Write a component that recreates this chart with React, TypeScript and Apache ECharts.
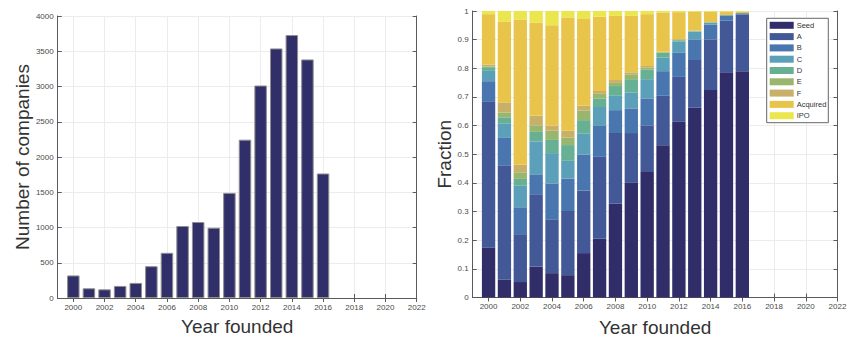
import React, { useEffect, useRef } from "react";
import * as echarts from "echarts";

const years = [2000, 2001, 2002, 2003, 2004, 2005, 2006, 2007, 2008, 2009, 2010, 2011, 2012, 2013, 2014, 2015, 2016];
const axisStartYear = 1999;
const axisEndYear = 2022;

const companies = [320, 138, 123, 171, 214, 451, 641, 1021, 1078, 997, 1491, 2246, 3014, 3540, 3730, 3384, 1766];

const seed = [0.174, 0.063, 0.054, 0.107, 0.085, 0.078, 0.155, 0.205, 0.327, 0.4, 0.438, 0.531, 0.613, 0.663, 0.724, 0.786, 0.79];
const roundA = [0.511, 0.399, 0.167, 0.253, 0.186, 0.224, 0.218, 0.286, 0.247, 0.174, 0.163, 0.173, 0.157, 0.166, 0.177, 0.18, 0.197];
const roundB = [0.07, 0.095, 0.094, 0.07, 0.127, 0.113, 0.126, 0.11, 0.08, 0.086, 0.094, 0.086, 0.084, 0.072, 0.052, 0.018, 0.005];
const roundC = [0.036, 0.051, 0.075, 0.115, 0.106, 0.062, 0.074, 0.064, 0.05, 0.056, 0.067, 0.047, 0.04, 0.027, 0.007, 0.002, 0.001];
const roundD = [0.013, 0.021, 0.024, 0.033, 0.046, 0.055, 0.046, 0.03, 0.034, 0.046, 0.033, 0.017, 0.004, 0.001, 0, 0, 0];
const roundE = [0.002, 0.017, 0.023, 0.023, 0.032, 0.026, 0.034, 0.016, 0.011, 0.017, 0.008, 0.002, 0.001, 0.001, 0, 0, 0];
const roundF = [0.007, 0.035, 0.026, 0.033, 0.018, 0.024, 0.016, 0.01, 0.01, 0.007, 0.005, 0.002, 0.003, 0.002, 0.001, 0, 0];
const acquired = [0.176, 0.282, 0.507, 0.326, 0.35, 0.395, 0.303, 0.259, 0.224, 0.197, 0.181, 0.137, 0.094, 0.065, 0.036, 0.012, 0.004];
const ipo = [0.011, 0.037, 0.03, 0.04, 0.05, 0.023, 0.028, 0.02, 0.017, 0.017, 0.011, 0.005, 0.004, 0.003, 0.003, 0.002, 0.003];

const stageNames = ["Seed", "A", "B", "C", "D", "E", "F", "Acquired", "IPO"];
const stageValues = [seed, roundA, roundB, roundC, roundD, roundE, roundF, acquired, ipo];
const stageColors = ["#302d69", "#435896", "#4a76b0", "#5b9fb9", "#68b094", "#98b66e", "#c8b068", "#e8c44b", "#ece64e"];

const FONT = "Liberation Sans, Arial, Helvetica, sans-serif";
const AXIS_COLOR = "#5a5a5a";
const LABEL_COLOR = "#4a4a4a";
const TITLE_COLOR = "#333333";
const GRID_COLOR = "#ececec";

export default function App() {
  const ref = useRef<HTMLDivElement>(null);

  useEffect(() => {
    if (!ref.current) return;
    const chart = echarts.init(ref.current, null, { renderer: "svg" });

    const cats: string[] = [];
    for (let y = axisStartYear; y <= axisEndYear; y++) cats.push(String(y));
    const align = (vals: number[]) =>
      cats.map((c) => {
        const i = years.indexOf(Number(c));
        return i >= 0 ? vals[i] : null;
      });
    const even = (_i: number, v: string) => Number(v) % 2 === 0;

    const catAxis = (grid: number, position: "bottom" | "top", withName: string | null, nameGap: number) => ({
      type: "category",
      gridIndex: grid,
      position,
      data: cats,
      boundaryGap: false,
      axisLine: { show: true, lineStyle: { color: AXIS_COLOR, width: 1 } },
      axisTick: { show: true, inside: true, length: 4, interval: even, lineStyle: { color: AXIS_COLOR } },
      axisLabel: {
        show: position === "bottom",
        interval: even,
        fontSize: 8,
        fontFamily: FONT,
        color: LABEL_COLOR,
        margin: 5,
      },
      splitLine: { show: position === "bottom", interval: even, lineStyle: { color: GRID_COLOR, width: 1 } },
      name: withName || "",
      nameLocation: "middle",
      nameGap,
      nameTextStyle: { fontSize: 19, fontFamily: FONT, color: TITLE_COLOR },
    });

    const valAxis = (
      grid: number,
      position: "left" | "right",
      max: number,
      interval: number,
      withName: string | null,
      nameGap: number
    ) => ({
      type: "value",
      gridIndex: grid,
      position,
      min: 0,
      max,
      interval,
      axisLine: { show: true, lineStyle: { color: AXIS_COLOR, width: 1 } },
      axisTick: { show: true, inside: true, length: 4, lineStyle: { color: AXIS_COLOR } },
      axisLabel: {
        show: position === "left",
        fontSize: 8,
        fontFamily: FONT,
        color: LABEL_COLOR,
        margin: 4,
        formatter: (v: number) => String(Math.round(v * 1000) / 1000),
      },
      splitLine: { show: position === "left", lineStyle: { color: GRID_COLOR, width: 1 } },
      name: withName || "",
      nameLocation: "middle",
      nameGap,
      nameTextStyle: { fontSize: 19, fontFamily: FONT, color: TITLE_COLOR },
    });

    const option: any = {
      animation: false,
      backgroundColor: "#ffffff",
      grid: [
        { left: 57.7, top: 16, width: 359, height: 282, containLabel: false },
        { left: 472.7, top: 11, width: 364.8, height: 286.5, containLabel: false },
      ],
      xAxis: [
        catAxis(0, "bottom", "Year founded", 19),
        catAxis(0, "top", null, 0),
        catAxis(1, "bottom", "Year founded", 20),
        catAxis(1, "top", null, 0),
      ],
      yAxis: [
        valAxis(0, "left", 4000, 500, "Number of companies", 25),
        valAxis(0, "right", 4000, 500, null, 0),
        valAxis(1, "left", 1, 0.1, "Fraction", 18),
        valAxis(1, "right", 1, 0.1, null, 0),
      ],
      legend: {
        show: true,
        orient: "vertical",
        left: 766.7,
        top: 18.3,
        data: stageNames,
        selectedMode: false,
        icon: "rect",
        itemWidth: 24,
        itemHeight: 7,
        itemGap: 3.3,
        padding: [3, 2, 3, 3],
        borderColor: "#666666",
        borderWidth: 1,
        backgroundColor: "#ffffff",
        textStyle: { fontSize: 7.5, fontFamily: FONT, color: "#333333", padding: [0, 0, 0, -2] },
      },
      series: [
        {
          type: "bar",
          name: "Companies",
          xAxisIndex: 0,
          yAxisIndex: 0,
          data: align(companies),
          barWidth: "80%",
          itemStyle: { color: "#312f6a", borderColor: "#8f8f8f", borderWidth: 1 },
        },
        ...stageNames.map((n, k) => ({
          type: "bar",
          name: n,
          xAxisIndex: 2,
          yAxisIndex: 2,
          stack: "stage",
          data: align(stageValues[k]),
          barWidth: "84%",
          itemStyle: { color: stageColors[k] },
        })),
      ],
    };

    chart.setOption(option);
    return () => {
      chart.dispose();
    };
  }, []);

  return (
    <div
      ref={ref}
      style={{ position: "fixed", left: 0, top: 0, width: 860, height: 346, background: "#ffffff" }}
    />
  );
}
